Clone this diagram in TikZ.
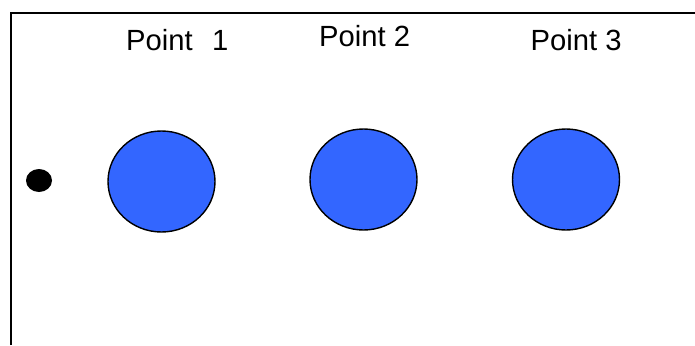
\documentclass[tikz,border=0pt]{standalone}
\usepackage{fontspec}
\setmainfont{Liberation Sans}
\usetikzlibrary{shapes.geometric}
\definecolor{ptblue}{HTML}{3366FF}
\tikzset{
  pt/.style={ellipse, draw=black, line width=1.4pt, fill=ptblue, minimum width=107pt, minimum height=101pt, inner sep=0pt},
  lbl/.style={anchor=base west, inner sep=0pt, font=\fontsize{29.2}{30}\selectfont},
  frame/.style={line width=2.2pt, draw=black}
}
\begin{document}
\begin{tikzpicture}[x=1pt, y=-1pt]
\useasboundingbox (0,0) rectangle (695,345);
\coordinate (fb) at (11,345);
\coordinate (fc) at (11,13);
\coordinate (fr) at (695,13);
\draw[frame] (fb) -- (fc) -- (fr);
\node[lbl] (l1) at (126,50) {Point\hspace{0.66em}1};
\node[lbl] (l2) at (319,47) {Point 2};
\node[lbl] (l3) at (530.5,50) {Point 3};
\node[ellipse, fill=black, minimum width=26pt, minimum height=23pt, inner sep=0pt] (dot) at (39,180.5) {};
\node[pt] (p1) at (161.5,181.5) {};
\node[pt] (p2) at (363.5,179.5) {};
\node[pt] (p3) at (566,179.5) {};
\end{tikzpicture}
\end{document}
